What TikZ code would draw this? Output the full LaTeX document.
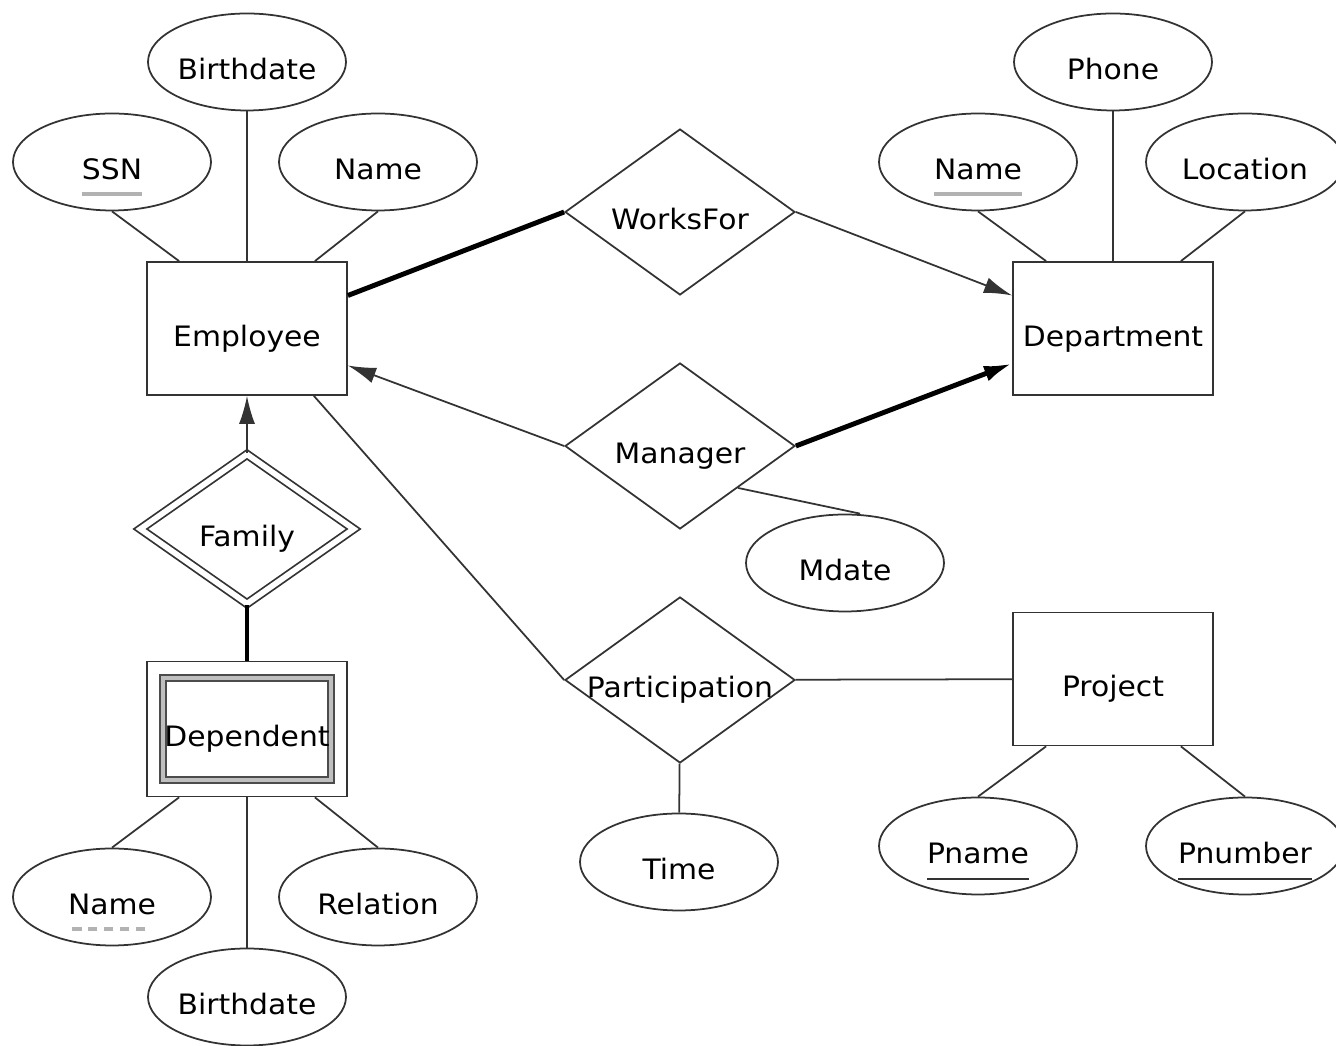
\documentclass[tikz,border=0pt]{standalone}
\usepackage{fontspec}
\setmainfont[FakeStretch=1.06]{DejaVu Sans}
\usepackage{tikz}
\usetikzlibrary{arrows.meta}
\usetikzlibrary{shapes.geometric}
\usetikzlibrary{calc}

\newcommand{\keyline}[2]{\leavevmode\setbox0\hbox{#2}\rlap{\smash{\textcolor{#1}{\rule[-4.6pt]{\wd0}{1.1pt}}}}\box0}
\newcommand{\keythin}[1]{\leavevmode\setbox0\hbox{#1}\rlap{\smash{\textcolor{black!80}{\rule[-4.6pt]{\wd0}{0.5pt}}}}\box0}
\newcommand{\keydash}[1]{\leavevmode\setbox0\hbox{#1}\rlap{\smash{\hbox to \wd0{\cleaders\hbox{\textcolor{black!30}{\rule[-4.6pt]{2.6pt}{1.1pt}}\hskip1.9pt}\hfill}}}\box0}

\tikzset{
  every node/.style={font=\fontsize{8}{10}\selectfont, text height=10pt, text depth=0pt},
  entity/.style={draw=black!80, line width=0.5pt, minimum width=2cm, minimum height=1.33cm, inner sep=0pt},
  attr/.style={ellipse, draw=black!80, line width=0.5pt, minimum width=1.98cm, minimum height=0.97cm, inner sep=0pt},
  rel/.style={diamond, draw=black!80, line width=0.5pt, minimum width=2.3cm, minimum height=1.66cm, inner sep=0pt},
  conn/.style={draw=black!80, line width=0.5pt},
  heavy/.style={draw=black, line width=1.4pt},
  tip/.style={-{Latex[length=8pt,width=4.6pt]}}
}

\begin{document}
\begin{tikzpicture}
 \useasboundingbox (0,0) rectangle (13.36,-10.46);

 % entities
 \node[entity] (employee) at (2.47,-3.285) {Employee};
 \node[entity] (department) at (11.13,-3.285) {Department};
 \node[entity] (project) at (11.13,-6.79) {Project};
 \node[entity, minimum width=1.68cm, minimum height=1.02cm, draw=black!70, double=black!25, double distance=1.2pt] (depin) at (2.47,-7.29) {Dependent};
 \node[entity, minimum height=1.35cm] (dependent) at (2.47,-7.29) {};

 % relationships
 \node[rel] (worksfor) at (6.80,-2.12) {\makebox[0pt]{WorksFor}};
 \node[rel] (manager) at (6.80,-4.46) {\makebox[0pt]{Manager}};
 \node[rel] (participation) at (6.80,-6.80) {\makebox[0pt]{Participation}};
 \node[rel, minimum width=2.14cm, minimum height=1.5cm, double=white, double distance=1.6pt] (family) at (2.47,-5.29) {Family};

 % attributes
 \node[attr] (ebirth) at (2.47,-0.62) {Birthdate};
 \node[attr] (ssn) at (1.12,-1.62) {\keyline{black!30}{SSN}};
 \node[attr] (ename) at (3.78,-1.62) {Name};
 \node[attr] (phone) at (11.13,-0.62) {Phone};
 \node[attr] (dname) at (9.78,-1.62) {\keyline{black!30}{Name}};
 \node[attr] (location) at (12.45,-1.62) {Location};
 \node[attr] (mdate) at (8.45,-5.63) {Mdate};
 \node[attr] (time) at (6.79,-8.62) {Time};
 \node[attr] (pname) at (9.78,-8.46) {\keythin{Pname}};
 \node[attr] (pnumber) at (12.45,-8.46) {\keythin{Pnumber}};
 \node[attr] (depname) at (1.12,-8.97) {\keydash{Name}};
 \node[attr] (relation) at (3.78,-8.97) {Relation};
 \node[attr] (dbirth) at (2.47,-9.97) {Birthdate};

 % attribute links
 \draw[conn] (ssn.south) -- ([xshift=0.33cm]employee.north west);
 \draw[conn] (ebirth) -- (employee);
 \draw[conn] (ename.south) -- ([xshift=-0.33cm]employee.north east);
 \draw[conn] (dname.south) -- ([xshift=0.34cm]department.north west);
 \draw[conn] (phone) -- (department);
 \draw[conn] (location.south) -- ([xshift=-0.33cm]department.north east);
 \draw[conn] (pname.north) -- ([xshift=0.34cm]project.south west);
 \draw[conn] (pnumber.north) -- ([xshift=-0.33cm]project.south east);
 \draw[conn] (depname.north) -- ([xshift=0.33cm]dependent.south west);
 \draw[conn] (dbirth) -- (dependent);
 \draw[conn] (relation.north) -- ([xshift=-0.33cm]dependent.south east);
 \draw[conn] (manager.south east) -- ([xshift=0.15cm]mdate.north);
 \draw[conn] (participation) -- (time);

 % relationship links
 \draw[heavy] ([yshift=0.33cm]employee.east) -- (worksfor.west);
 \draw[conn, tip] (worksfor.east) -- ([yshift=0.33cm]department.west);
 \draw[conn, tip] (manager.west) -- ([yshift=-0.37cm]employee.east);
 \draw[heavy, tip] (manager.east) -- ([yshift=-0.35cm]department.west);
 \draw[conn] ([xshift=-0.34cm]employee.south east) -- (participation.west);
 \draw[conn] (participation) -- (project);
 \draw[conn, tip] (family) -- (employee);
 \draw[heavy] (family) -- (dependent);
\end{tikzpicture}
\end{document}
